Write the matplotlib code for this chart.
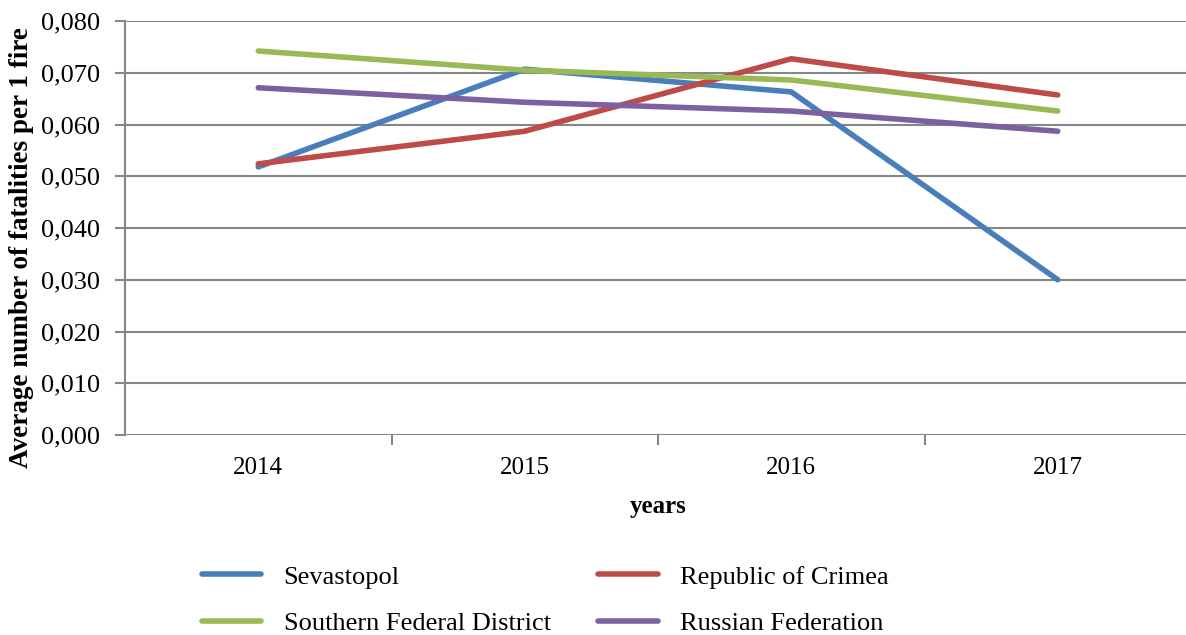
import matplotlib
matplotlib.use("Agg")
import matplotlib.pyplot as plt
from matplotlib.ticker import FuncFormatter

years = ["2014", "2015", "2016", "2017"]
sevastopol = [0.0518, 0.0707, 0.0663, 0.0300]
crimea = [0.0524, 0.0587, 0.0727, 0.0657]
southern = [0.0742, 0.0705, 0.0686, 0.0626]
russia = [0.0671, 0.0643, 0.0626, 0.0587]
series_names = ["Sevastopol", "Republic of Crimea", "Southern Federal District", "Russian Federation"]
colors = ["#4a7ebb", "#be4b48", "#98b954", "#7d60a0"]

plt.rcParams['font.family'] = ['Liberation Serif', 'DejaVu Serif']

W, H = 1186, 635
fig = plt.figure(figsize=(W / 100, H / 100), dpi=100)
left, right, top, bottom = 125, 1191, 21, 435
ax = fig.add_axes([left / W, 1 - bottom / H, (right - left) / W, (bottom - top) / H])

x = list(range(len(years)))
lines = []
for vals, name, c in zip([sevastopol, crimea, southern, russia], series_names, colors):
    ln, = ax.plot(x, vals, color=c, lw=4, label=name, solid_capstyle='round', solid_joinstyle='round')
    lines.append(ln)

ax.set_xlim(-0.5, len(years) - 0.5)
ax.set_ylim(0, 0.080)
ax.set_yticks([i * 0.01 for i in range(9)])
ax.yaxis.set_major_formatter(FuncFormatter(lambda v, p: f"{v:.3f}".replace('.', ',')))
ax.grid(axis='y', color='#868686', lw=1.5)
ax.set_axisbelow(True)
ax.set_xticks(x)
ax.set_xticklabels(years)
ax.set_xticks([0.5, 1.5, 2.5], minor=True)
ax.tick_params(axis='x', which='major', length=0, labelsize=18, pad=16)
ax.tick_params(axis='x', which='minor', length=7, width=1.5, color='#868686', direction='out')
ax.tick_params(axis='y', length=7, width=1.5, color='#868686', labelsize=19, pad=11)
for s in ['top', 'right', 'bottom']:
    ax.spines[s].set_visible(False)
ax.spines['left'].set_color('#868686')
ax.spines['left'].set_linewidth(1.5)

ax.set_xlabel("years", fontsize=18, fontweight='bold', labelpad=11)
fig.text(22 / W, 1 - 248 / H, "Average number of fatalities per 1 fire", rotation=90,
         fontsize=19.5, fontweight='bold', ha='center', va='center')

order = [0, 2, 1, 3]
fig.legend(handles=[lines[i] for i in order], labels=[series_names[i] for i in order],
           ncol=2, loc='center left',
           bbox_to_anchor=(178 / W, 1 - 600 / H), frameon=False, fontsize=19,
           handlelength=2.25, handletextpad=0.85, columnspacing=1.8, labelspacing=0.86)

fig.savefig("out.png", dpi=100)
